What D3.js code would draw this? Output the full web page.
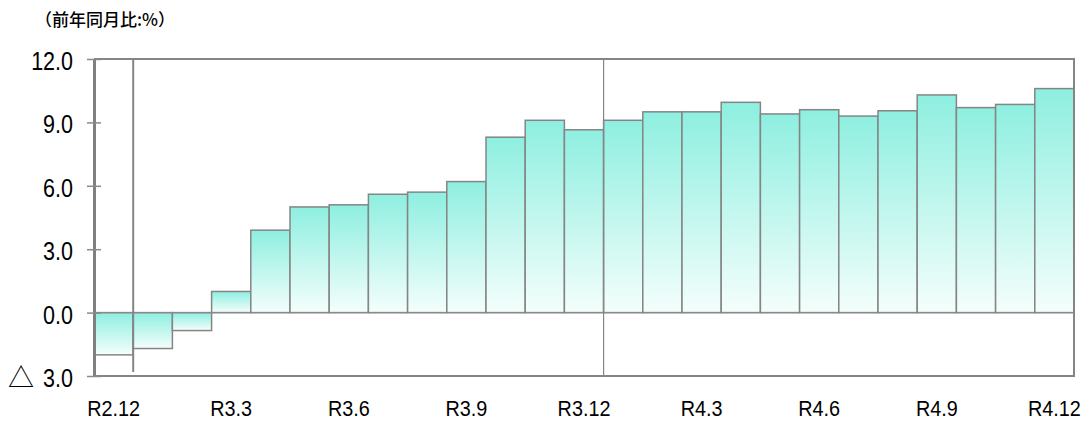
<!DOCTYPE html>
<html><head><meta charset="utf-8">
<script src="https://cdn.jsdelivr.net/npm/d3@7"></script>
<style>
html,body{margin:0;padding:0;background:#fff;}
svg{display:block;}
</style></head>
<body>
<script>
const months = ["R2.12","R3.1","R3.2","R3.3","R3.4","R3.5","R3.6","R3.7","R3.8","R3.9","R3.10","R3.11","R3.12",
  "R4.1","R4.2","R4.3","R4.4","R4.5","R4.6","R4.7","R4.8","R4.9","R4.10","R4.11","R4.12"];
const values = [-2.0,-1.7,-0.85,1.0,3.9,5.0,5.1,5.6,5.7,6.2,8.3,9.1,8.65,
  9.1,9.5,9.5,9.95,9.4,9.6,9.3,9.55,10.3,9.7,9.85,10.6];
const xTickLabels = ["R2.12","R3.3","R3.6","R3.9","R3.12","R4.3","R4.6","R4.9","R4.12"];
const yTicks = [-3,0,3,6,9,12];
const yTickLabels = ["3.0","0.0","3.0","6.0","9.0","12.0"];
const negMark = "△";
const yearBreaks = ["R3.1","R4.1"];
const unitLabel = "（前年同月比:%）";

const W = 1089, H = 423;
const m = {left:94, right:15, top:59, bottom:47};
const svg = d3.select("body").append("svg").attr("width",W).attr("height",H);

const x = d3.scaleBand().domain(months).range([m.left, W-m.right]).padding(0);
const y = d3.scaleLinear().domain([-3,12]).range([H-m.bottom, m.top]);

const defs = svg.append("defs");
const g = defs.append("linearGradient").attr("id","barGrad").attr("x1",0).attr("y1",0).attr("x2",0).attr("y2",1);
g.append("stop").attr("offset","0%").attr("stop-color","#8eefe0");
g.append("stop").attr("offset","100%").attr("stop-color","#f4fefc");

const font = "'Liberation Sans',Arial,sans-serif";
function squeeze(sel, f){
  sel.each(function(){
    const w = this.getComputedTextLength();
    d3.select(this).attr("textLength", w*f).attr("lengthAdjust","spacingAndGlyphs");
  });
}

// bars
svg.append("g").selectAll("rect").data(values).join("rect")
  .attr("x",(d,i)=>x(months[i]))
  .attr("width",x.bandwidth())
  .attr("y",d=>y(Math.max(0,d)))
  .attr("height",d=>Math.abs(y(d)-y(0)))
  .attr("fill","url(#barGrad)")
  .attr("stroke","#858585").attr("stroke-width",1.5);

// zero line
svg.append("line").attr("x1",m.left).attr("x2",W-m.right).attr("y1",y(0)).attr("y2",y(0))
  .attr("stroke","#8a8a8a").attr("stroke-width",1.2);

// year break lines
svg.append("line").attr("x1",x(yearBreaks[0])).attr("x2",x(yearBreaks[0]))
  .attr("y1",y(12)).attr("y2",y(-3)-4).attr("stroke","#858585").attr("stroke-width",2);
svg.append("line").attr("x1",x(yearBreaks[1])).attr("x2",x(yearBreaks[1]))
  .attr("y1",y(12)).attr("y2",y(-3)).attr("stroke","#858585").attr("stroke-width",1.2);

// frame: top, right, bottom
svg.append("path")
  .attr("d",`M${m.left},${y(12)}H${W-m.right}V${y(-3)}H${m.left}`)
  .attr("fill","none").attr("stroke","#858585").attr("stroke-width",2);

// y axis
const yAxis = d3.axisLeft(y).tickValues(yTicks).tickSize(0).tickFormat((d,i)=>yTickLabels[i]);
const ya = svg.append("g").attr("transform",`translate(${m.left},0)`).call(yAxis);
ya.select(".domain").attr("stroke","#808080").attr("stroke-width",3);
ya.selectAll(".tick line").remove();
ya.selectAll(".tick").append("line").attr("x1",-7).attr("x2",7).attr("stroke","#8a8a8a").attr("stroke-width",1.5);
ya.selectAll(".tick text").attr("x",-21).attr("dy","0.42em")
  .attr("font-family",font).attr("font-size",25).attr("fill","#000");
squeeze(ya.selectAll(".tick text"), 0.86);
// negative marker
ya.selectAll(".tick").filter(d=>d<0).append("text")
  .attr("x",-86).attr("dy","0.42em").attr("text-anchor","start")
  .attr("font-family","'Noto Sans CJK JP',sans-serif").attr("font-size",26).attr("fill","#000")
  .text(negMark);

// x axis labels
const xa = svg.append("g").attr("transform",`translate(0,${y(-3)})`)
  .call(d3.axisBottom(x).tickValues(xTickLabels).tickSize(0));
xa.select(".domain").remove();
xa.selectAll(".tick text").attr("y",24).attr("dy","0.71em")
  .attr("font-family",font).attr("font-size",22).attr("fill","#000");
squeeze(xa.selectAll(".tick text"), 0.9);

// unit label
svg.append("text").attr("x",35).attr("y",26).text(unitLabel)
  .attr("font-family","'Noto Sans CJK JP',sans-serif").attr("font-size",17).attr("font-weight",500).attr("fill","#000");
</script>
</body></html>
